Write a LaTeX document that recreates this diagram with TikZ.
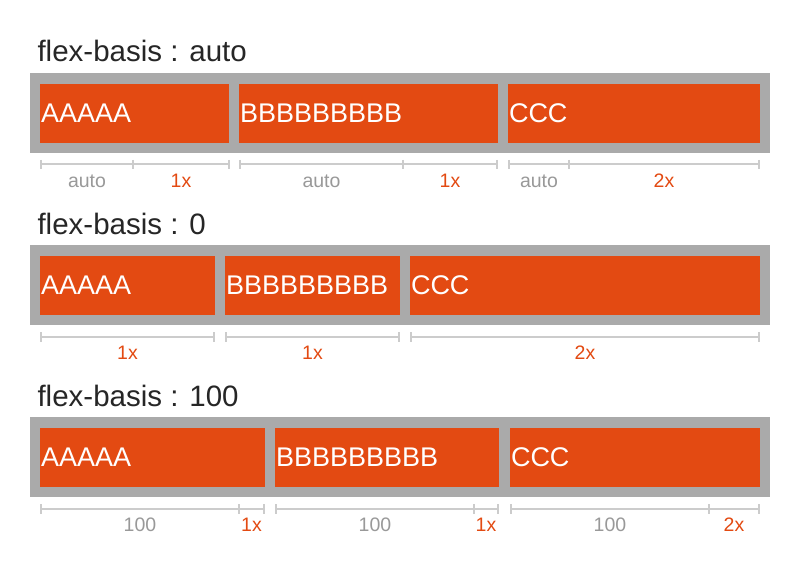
\documentclass[tikz,border=0pt]{standalone}
\usepackage{fontspec}
\setmainfont{Liberation Sans}
\definecolor{frame}{HTML}{AAAAAA}
\definecolor{flexorange}{HTML}{E34A12}
\definecolor{dimgray}{HTML}{CCCCCC}
\definecolor{txtgray}{HTML}{999999}
\tikzset{
  container/.style={draw=none, fill=frame, inner sep=0pt, minimum width=740pt, minimum height=80pt},
  item/.style={fill=flexorange, text=white, inner xsep=1pt, inner ysep=0pt, minimum height=59pt,
    align=left, font=\fontsize{27}{32}\selectfont},
  title/.style={anchor=base west, text=black!85, font=\fontsize{29.5}{34}\selectfont},
  dim/.style={dimgray, line width=2pt},
  dimtick/.style={dimgray, line width=2pt},
  dimtext/.style={midway, yshift=-16.5pt, font=\fontsize{19.5}{22}\selectfont, text=txtgray},
  dimflex/.style={dimtext, text=flexorange}
}
\begin{document}
\begin{tikzpicture}[x=1pt,y=-1pt]
  \useasboundingbox[fill=white] (0,0) rectangle (800,564);

  %flex-basis : auto
  \node[title] (t1) at (34,62) {flex-basis : auto};
  \node[container] (c1) at (400,113) {};
  \node[item, text width=187pt] (a1) at (134.5,113.5) {AAAAA};
  \node[item, text width=257pt] (b1) at (368.5,113.5) {BBBBBBBBB};
  \node[item, text width=250pt] (k1) at (634,113.5) {CCC};
  %cotas
  \draw[dim] (41,164.5) -- (133,164.5) node[dimtext] {auto};
  \draw[dim] (133,164.5) -- (229,164.5) node[dimflex] {1x};
  \draw[dim] (240,164.5) -- (403,164.5) node[dimtext] {auto};
  \draw[dim] (403,164.5) -- (497,164.5) node[dimflex] {1x};
  \draw[dim] (509,164.5) -- (569,164.5) node[dimtext] {auto};
  \draw[dim] (569,164.5) -- (759,164.5) node[dimflex] {2x};
  \foreach \x in {41,133,229,240,403,497,509,569,759}
    \draw[dimtick] (\x,160) -- (\x,169.5);

  %flex-basis : 0
  \node[title] (t2) at (34,234) {flex-basis : 0};
  \node[container] (c2) at (400,285) {};
  \node[item, text width=173pt] (a2) at (127.5,285.5) {AAAAA};
  \node[item, text width=173pt] (b2) at (312.5,285.5) {BBBBBBBBB};
  \node[item, text width=348pt] (k2) at (585,285.5) {CCC};
  %cotas
  \draw[dim] (41,336.5) -- (214,336.5) node[dimflex] {1x};
  \draw[dim] (226,336.5) -- (399,336.5) node[dimflex] {1x};
  \draw[dim] (411,336.5) -- (759,336.5) node[dimflex] {2x};
  \foreach \x in {41,214,226,399,411,759}
    \draw[dimtick] (\x,332) -- (\x,341.5);

  %flex-basis : 100
  \node[title] (t3) at (34,406) {flex-basis : 100};
  \node[container] (c3) at (400,457) {};
  \node[item, text width=223pt] (a3) at (152.5,457.5) {AAAAA};
  \node[item, text width=222pt] (b3) at (387,457.5) {BBBBBBBBB};
  \node[item, text width=248pt] (k3) at (635,457.5) {CCC};
  %cotas
  \draw[dim] (41,508.5) -- (239,508.5) node[dimtext] {100};
  \draw[dim] (239,508.5) -- (264,508.5) node[dimflex] {1x};
  \draw[dim] (276,508.5) -- (474,508.5) node[dimtext] {100};
  \draw[dim] (474,508.5) -- (498,508.5) node[dimflex] {1x};
  \draw[dim] (511,508.5) -- (709,508.5) node[dimtext] {100};
  \draw[dim] (709,508.5) -- (759,508.5) node[dimflex] {2x};
  \foreach \x in {41,239,264,276,474,498,511,709,759}
    \draw[dimtick] (\x,504) -- (\x,513.5);
\end{tikzpicture}
\end{document}
